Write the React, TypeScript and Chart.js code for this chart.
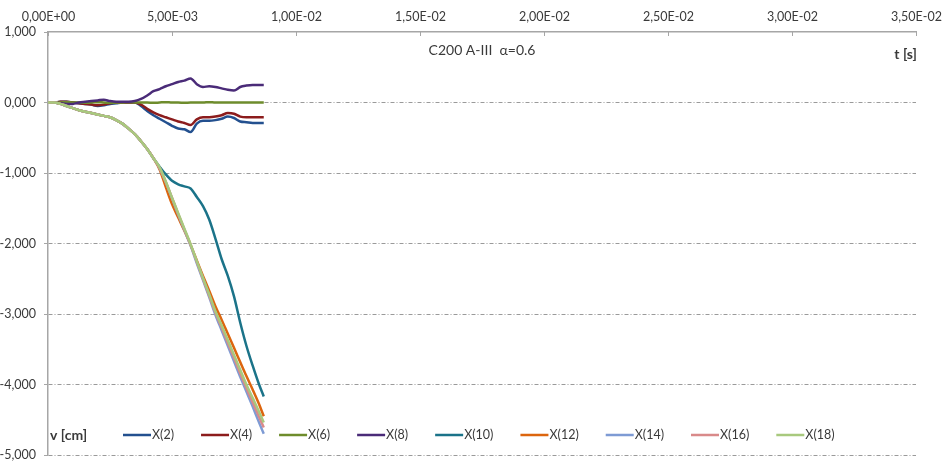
import React, { useEffect, useRef } from 'react';
import { Chart, registerables } from 'chart.js';

Chart.register(...registerables);

// Time samples [ms]
const timeMs = [
  0, 0.25, 0.5, 0.75, 1.0, 1.25, 1.5, 1.75, 2.0, 2.25, 2.5, 2.75, 3.0, 3.25, 3.5, 3.75, 4.0, 4.25,
  4.5, 4.75, 5.0, 5.25, 5.5, 5.75, 6.0, 6.25, 6.5, 6.75, 7.0, 7.25, 7.5, 7.75, 8.0, 8.25, 8.5, 8.7,
];

// Vertical displacement v [cm] at the nodes X(2) ... X(18)
const x2 = [
  0, 0, 0.01, 0.01, 0, -0.01, -0.02, -0.03, -0.05, -0.04, -0.02, -0.01, 0, 0, 0, -0.05, -0.12, -0.18,
  -0.23, -0.28, -0.33, -0.37, -0.38, -0.42, -0.3, -0.26, -0.26, -0.25, -0.23, -0.2, -0.22, -0.27, -0.28, -0.29, -0.29, -0.29,
];
const x4 = [
  0, 0, 0.01, 0.01, 0, -0.01, -0.02, -0.03, -0.04, -0.03, -0.01, 0, 0, 0, 0, -0.03, -0.09, -0.14,
  -0.18, -0.21, -0.24, -0.27, -0.29, -0.32, -0.24, -0.21, -0.21, -0.2, -0.18, -0.15, -0.16, -0.2, -0.21, -0.21, -0.21, -0.21,
];
const x6 = [
  0, 0, 0, 0.005, 0, 0, -0.005, 0, 0.005, 0, -0.005, 0, 0, 0.005, 0, 0, 0, -0.005,
  0, 0.005, 0, 0, -0.005, 0, 0, 0, 0.005, 0, 0, 0, 0, 0, 0, 0, 0, 0,
];
const x8 = [
  0, 0, -0.01, -0.02, -0.02, 0, 0.01, 0.02, 0.03, 0.04, 0.02, 0.01, 0.01, 0.01, 0.02, 0.05, 0.1, 0.16,
  0.19, 0.23, 0.26, 0.29, 0.31, 0.34, 0.26, 0.22, 0.23, 0.22, 0.2, 0.18, 0.17, 0.22, 0.24, 0.25, 0.25, 0.25,
];
const x10 = [
  0, 0, -0.02, -0.05, -0.08, -0.11, -0.13, -0.15, -0.17, -0.19, -0.21, -0.25, -0.3, -0.37, -0.45, -0.55, -0.66, -0.79,
  -0.91, -1.02, -1.11, -1.16, -1.19, -1.22, -1.34, -1.47, -1.66, -1.93, -2.22, -2.46, -2.75, -3.12, -3.45, -3.73, -3.99, -4.17,
];
const x12 = [
  0, 0, -0.02, -0.05, -0.08, -0.11, -0.13, -0.15, -0.17, -0.19, -0.21, -0.25, -0.3, -0.37, -0.45, -0.55, -0.66, -0.79,
  -0.95, -1.2, -1.44, -1.63, -1.82, -2.02, -2.24, -2.46, -2.67, -2.89, -3.08, -3.28, -3.48, -3.68, -3.88, -4.07, -4.27, -4.45,
];
const x14 = [
  0, 0, -0.02, -0.05, -0.08, -0.11, -0.13, -0.15, -0.17, -0.19, -0.21, -0.25, -0.3, -0.37, -0.45, -0.55, -0.66, -0.79,
  -0.93, -1.13, -1.36, -1.59, -1.81, -2.03, -2.28, -2.52, -2.76, -3.01, -3.23, -3.45, -3.67, -3.89, -4.1, -4.31, -4.53, -4.7,
];
const x16 = [
  0, 0, -0.02, -0.05, -0.08, -0.11, -0.13, -0.15, -0.17, -0.19, -0.21, -0.25, -0.3, -0.37, -0.45, -0.55, -0.66, -0.79,
  -0.93, -1.13, -1.35, -1.58, -1.8, -2.02, -2.26, -2.5, -2.74, -2.98, -3.19, -3.41, -3.62, -3.84, -4.05, -4.25, -4.45, -4.61,
];
const x18 = [
  0, 0, -0.02, -0.05, -0.08, -0.11, -0.13, -0.15, -0.17, -0.19, -0.21, -0.25, -0.3, -0.37, -0.45, -0.55, -0.66, -0.79,
  -0.92, -1.12, -1.35, -1.57, -1.79, -2.01, -2.25, -2.49, -2.72, -2.96, -3.16, -3.37, -3.58, -3.79, -4.0, -4.19, -4.38, -4.54,
];

const seriesLabels = ['X(2)', 'X(4)', 'X(6)', 'X(8)', 'X(10)', 'X(12)', 'X(14)', 'X(16)', 'X(18)'];
const seriesValues = [x2, x4, x6, x8, x10, x12, x14, x16, x18];
const seriesColors = [
  '#23508F', '#8C1C1C', '#6E8C2C', '#4A2B78', '#1B7389', '#DC650E', '#7E9BD4', '#D98A8A', '#A8C97E',
];

const chartTitle = 'C200 A-III  \u03B1=0.6';
const xAxisTitle = 't [s]';
const yAxisTitle = 'v [cm]';

const FONT = 'Lato, "Liberation Sans", sans-serif';
const AXIS_COLOR = '#A6A6A6';
const GRID_COLOR = '#9A9A9A';
const TEXT_COLOR = '#3A3A3A';

const fmtSci = (v: number) => {
  if (Math.abs(v) < 1e-12) return '0,00E+00';
  const [m, e] = v.toExponential(2).split('e');
  const ex = parseInt(e, 10);
  return m.replace('.', ',') + 'E' + (ex < 0 ? '-' : '+') + String(Math.abs(ex)).padStart(2, '0');
};

const fmtFixed = (v: number) => (Math.abs(v) < 1e-12 ? 0 : v).toFixed(3).replace('.', ',');

// Axis labels, inward tick marks on the top axis, the titles and the in-plot legend
const annotations = {
  id: 'annotations',
  afterDraw(chart: any) {
    const { ctx, chartArea } = chart;
    const xs = chart.scales.x;
    const ys = chart.scales.y;
    ctx.save();
    ctx.strokeStyle = AXIS_COLOR;
    ctx.lineWidth = 1;
    ctx.fillStyle = TEXT_COLOR;
    ctx.font = `12.5px ${FONT}`;
    ctx.textAlign = 'center';
    ctx.textBaseline = 'middle';
    xs.ticks.forEach((t: any) => {
      const px = Math.round(xs.getPixelForValue(t.value)) + 0.5;
      ctx.beginPath();
      ctx.moveTo(px, chartArea.top);
      ctx.lineTo(px, chartArea.top + 4);
      ctx.stroke();
      ctx.fillText(fmtSci(t.value), px, chartArea.top - 15);
    });

    ctx.textAlign = 'right';
    ys.ticks.forEach((t: any) => {
      ctx.fillText(fmtFixed(t.value), chartArea.left - 12, ys.getPixelForValue(t.value));
    });

    ctx.font = `14px ${FONT}`;
    ctx.textAlign = 'center';
    ctx.fillText(chartTitle, (chartArea.left + chartArea.right) / 2, chartArea.top + 18);

    ctx.font = `bold 14px ${FONT}`;
    ctx.textAlign = 'right';
    ctx.fillText(xAxisTitle, chartArea.right + 1, chartArea.top + 22);

    const ly = chartArea.bottom - 20;
    ctx.textAlign = 'left';
    ctx.fillText(yAxisTitle, chartArea.left + 2, ly);

    ctx.font = `12.5px ${FONT}`;
    let lx = chartArea.left + 75;
    chart.data.datasets.forEach((ds: any) => {
      ctx.strokeStyle = ds.borderColor;
      ctx.lineWidth = 2.5;
      ctx.beginPath();
      ctx.moveTo(lx, ly);
      ctx.lineTo(lx + 28, ly);
      ctx.stroke();
      ctx.fillStyle = TEXT_COLOR;
      ctx.fillText(ds.label, lx + 29, ly);
      lx += 29 + ctx.measureText(ds.label).width + 27;
    });
    ctx.restore();
  },
};

export default function App() {
  const canvasRef = useRef<HTMLCanvasElement | null>(null);

  useEffect(() => {
    if (!canvasRef.current) return;
    const datasets = seriesLabels.map((label, i) => ({
      label,
      data: timeMs.map((t, k) => ({ x: t / 1000, y: seriesValues[i][k] })),
      borderColor: seriesColors[i],
      backgroundColor: seriesColors[i],
      borderWidth: 2.5,
      pointRadius: 0,
      cubicInterpolationMode: 'monotone' as const,
      fill: false,
      order: seriesLabels.length - i,
    }));

    const chart = new Chart(canvasRef.current, {
      type: 'line',
      data: { datasets },
      plugins: [annotations],
      options: {
        animation: false,
        responsive: false,
        devicePixelRatio: 1,
        layout: { padding: { left: 0, top: 0, right: 35, bottom: 9 } },
        plugins: { legend: { display: false }, tooltip: { enabled: false } },
        scales: {
          x: {
            type: 'linear',
            position: 'top',
            min: 0,
            max: 0.035,
            ticks: { stepSize: 0.005, display: false },
            grid: { display: false },
            border: { display: true, color: AXIS_COLOR, width: 1.5 },
            afterFit: (s: any) => {
              s.height = 32;
            },
          },
          y: {
            type: 'linear',
            min: -5,
            max: 1,
            ticks: { stepSize: 1, display: false },
            grid: {
              color: (c: any) => (c.tick && c.tick.value === 1 ? 'rgba(0,0,0,0)' : GRID_COLOR),
              lineWidth: 1,
              tickLength: 4,
              tickColor: AXIS_COLOR,
            },
            border: { display: true, color: AXIS_COLOR, width: 1.5, dash: [4, 2, 1, 2] },
            afterFit: (s: any) => {
              s.width = 48;
            },
          },
        },
      },
    });
    return () => chart.destroy();
  }, []);

  return (
    <canvas
      ref={canvasRef}
      width={951}
      height={464}
      style={{ position: 'fixed', left: 0, top: 0, width: 951, height: 464, background: '#fff' }}
    />
  );
}
